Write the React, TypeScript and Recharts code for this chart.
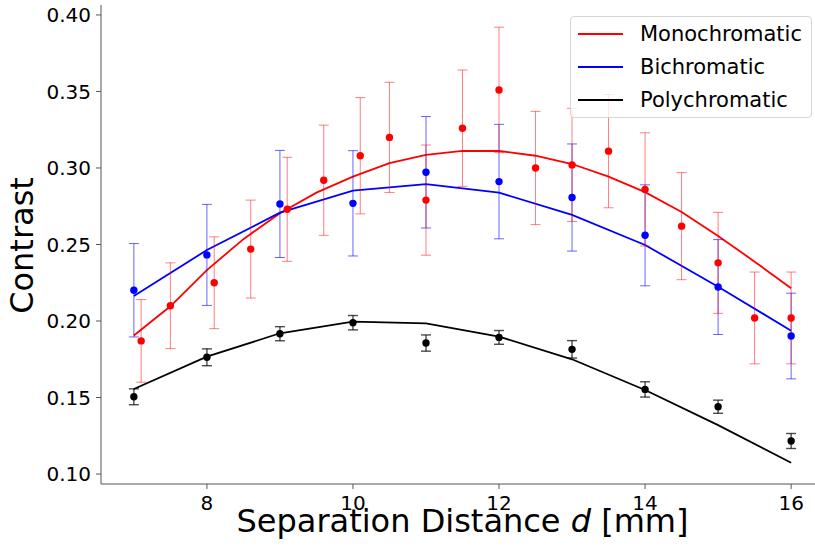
import React from 'react';
import { ComposedChart, Line, Scatter, XAxis, YAxis, ErrorBar, Legend, Label } from 'recharts';

// ---- data ----
const distances = [7, 8, 9, 10, 11, 12, 13, 14, 15, 16];

const monoDistances = [7.1, 7.5, 8.1, 8.6, 9.1, 9.6, 10.1, 10.5, 11, 11.5, 12, 12.5, 13, 13.5, 14, 14.5, 15, 15.5, 16];
const monoContrast = [0.187, 0.21, 0.225, 0.247, 0.273, 0.292, 0.308, 0.32, 0.279, 0.326, 0.351, 0.3, 0.302, 0.311, 0.286, 0.262, 0.238, 0.202, 0.202];
const monoError = [0.027, 0.028, 0.03, 0.032, 0.034, 0.036, 0.038, 0.036, 0.036, 0.038, 0.041, 0.037, 0.037, 0.037, 0.037, 0.035, 0.033, 0.03, 0.03];
const monoFitDistances = [7, 7.5, 8, 8.5, 9, 9.5, 10, 10.5, 11, 11.5, 12, 12.5, 13, 13.5, 14, 14.5, 15, 15.5, 16];
const monoFit = [0.1905, 0.2096, 0.2333, 0.2535, 0.2704, 0.2839, 0.2943, 0.3031, 0.3085, 0.3112, 0.3111, 0.308, 0.3026, 0.2943, 0.2842, 0.2712, 0.2556, 0.2388, 0.2214];

const biContrast = [0.2201, 0.2432, 0.2765, 0.2769, 0.2972, 0.2911, 0.2807, 0.256, 0.2222, 0.1902];
const biError = [0.0305, 0.033, 0.035, 0.0344, 0.0364, 0.0374, 0.035, 0.033, 0.031, 0.028];
const biFit = [0.2163, 0.2464, 0.2708, 0.2852, 0.2895, 0.2839, 0.2693, 0.2497, 0.2224, 0.1937];

const polyContrast = [0.1505, 0.1763, 0.1917, 0.1989, 0.1856, 0.1893, 0.1815, 0.1553, 0.144, 0.1216];
const polyError = [0.0052, 0.0055, 0.0046, 0.0047, 0.0053, 0.0045, 0.0057, 0.005, 0.0043, 0.0049];
const polyFit = [0.1556, 0.1767, 0.192, 0.1996, 0.1985, 0.1898, 0.175, 0.1549, 0.132, 0.1074];

const xTicks = [8, 10, 12, 14, 16];
const yTicks = [0.1, 0.15, 0.2, 0.25, 0.3, 0.35, 0.4];
const seriesNames = ['Monochromatic', 'Bichromatic', 'Polychromatic'];
const seriesColors = ['#ff0000', '#0000ff', '#000000'];

// ---- build tables ----
const toPoints = (xs: number[], ys: number[], errs?: number[]) =>
  xs.map((x, i) => ({ x, y: ys[i], err: errs ? errs[i] : 0 }));

const monoPts = toPoints(monoDistances, monoContrast, monoError);
const monoLine = toPoints(monoFitDistances, monoFit);
const biPts = toPoints(distances, biContrast, biError);
const biLine = toPoints(distances, biFit);
const polyPts = toPoints(distances, polyContrast, polyError);
const polyLine = toPoints(distances, polyFit);

const FONT = 'DejaVu Sans, sans-serif';
const X_DOMAIN: [number, number] = [6.55, 16.45];
const Y_DOMAIN: [number, number] = [0.0935, 0.4065];
const SPINE = '#555';

const dot = (color: string) => (p: any) =>
  p.cx == null ? <g /> : <circle cx={p.cx} cy={p.cy} r={3.7} fill={color} />;

const LegendBox = () => (
  <div
    style={{
      width: 242,
      height: 102,
      border: '1px solid #d6d6d6',
      borderRadius: 4,
      background: 'rgba(255,255,255,0.8)',
      fontFamily: FONT,
      fontSize: 21,
      color: '#000',
      boxSizing: 'border-box',
      position: 'relative',
    }}
  >
    {seriesNames.map((n, i) => (
      <div key={n} style={{ position: 'absolute', left: 0, top: 17 + i * 33 - 13, height: 26, display: 'flex', alignItems: 'center' }}>
        <div style={{ marginLeft: 7, width: 45, height: 2, background: seriesColors[i] }} />
        <span style={{ marginLeft: 17, lineHeight: '26px' }}>{n}</span>
      </div>
    ))}
  </div>
);

const XLabel = (props: any) => {
  const vb = props.viewBox || { x: 0, y: 0, width: 0, height: 0 };
  return (
    <text x={vb.x + vb.width / 2} y={vb.y + 48} textAnchor="middle" fontSize={32} fontFamily={FONT} fill="#000">
      Separation Distance <tspan fontStyle="italic">d</tspan> [mm]
    </text>
  );
};

const YLabel = (props: any) => {
  const vb = props.viewBox || { x: 0, y: 0, width: 0, height: 0 };
  const cx = vb.x + 33;
  const cy = vb.y + vb.height / 2 + 1;
  return (
    <text x={cx} y={cy} transform={`rotate(-90, ${cx}, ${cy})`} textAnchor="middle" fontSize={32} fontFamily={FONT} fill="#000">
      Contrast
    </text>
  );
};

export default function App() {
  return (
    <div style={{ position: 'absolute', left: 0, top: 0, width: 815, height: 550, overflow: 'hidden', background: '#fff' }}>
      <ComposedChart width={830} height={550} margin={{ top: 5, right: 6, bottom: 0, left: 0 }} style={{ fontFamily: FONT }}>
        <XAxis
          dataKey="x"
          type="number"
          domain={X_DOMAIN}
          allowDataOverflow
          ticks={xTicks}
          height={66}
          tickSize={5}
          tickMargin={7}
          stroke={SPINE}
          tick={{ fontSize: 20, fill: '#000', fontFamily: FONT }}
        >
          <Label content={<XLabel />} />
        </XAxis>
        <XAxis
          xAxisId="top"
          orientation="top"
          dataKey="x"
          type="number"
          domain={X_DOMAIN}
          allowDataOverflow
          height={0}
          tick={false}
          tickLine={false}
          stroke={SPINE}
        />
        <YAxis
          dataKey="y"
          type="number"
          domain={Y_DOMAIN}
          allowDataOverflow
          ticks={yTicks}
          width={101}
          tickSize={5}
          tickMargin={5}
          stroke={SPINE}
          tickFormatter={(v: number) => v.toFixed(2)}
          tick={{ fontSize: 20, fill: '#000', fontFamily: FONT }}
        >
          <Label content={<YLabel />} />
        </YAxis>

        <Line data={monoLine} dataKey="y" name={seriesNames[0]} stroke={seriesColors[0]} strokeWidth={1.8} dot={false} isAnimationActive={false} />
        <Line data={biLine} dataKey="y" name={seriesNames[1]} stroke={seriesColors[1]} strokeWidth={1.8} dot={false} isAnimationActive={false} />
        <Line data={polyLine} dataKey="y" name={seriesNames[2]} stroke={seriesColors[2]} strokeWidth={1.8} dot={false} isAnimationActive={false} />

        <Scatter data={polyPts} dataKey="y" shape={dot(seriesColors[2])} isAnimationActive={false} legendType="none">
          <ErrorBar dataKey="err" direction="y" width={5} stroke="#000" strokeOpacity={0.7} strokeWidth={1.4} />
        </Scatter>
        <Scatter data={biPts} dataKey="y" shape={dot(seriesColors[1])} isAnimationActive={false} legendType="none">
          <ErrorBar dataKey="err" direction="y" width={5} stroke="#0000ff" strokeOpacity={0.6} strokeWidth={1} />
        </Scatter>
        <Scatter data={monoPts} dataKey="y" shape={dot(seriesColors[0])} isAnimationActive={false} legendType="none">
          <ErrorBar dataKey="err" direction="y" width={5} stroke="#ff0000" strokeOpacity={0.5} strokeWidth={1} />
        </Scatter>

        <Legend
          layout="vertical"
          align="center"
          verticalAlign="middle"
          content={<LegendBox />}
          wrapperStyle={{ left: 570, top: 16, width: 242, height: 102 }}
        />
      </ComposedChart>
    </div>
  );
}
